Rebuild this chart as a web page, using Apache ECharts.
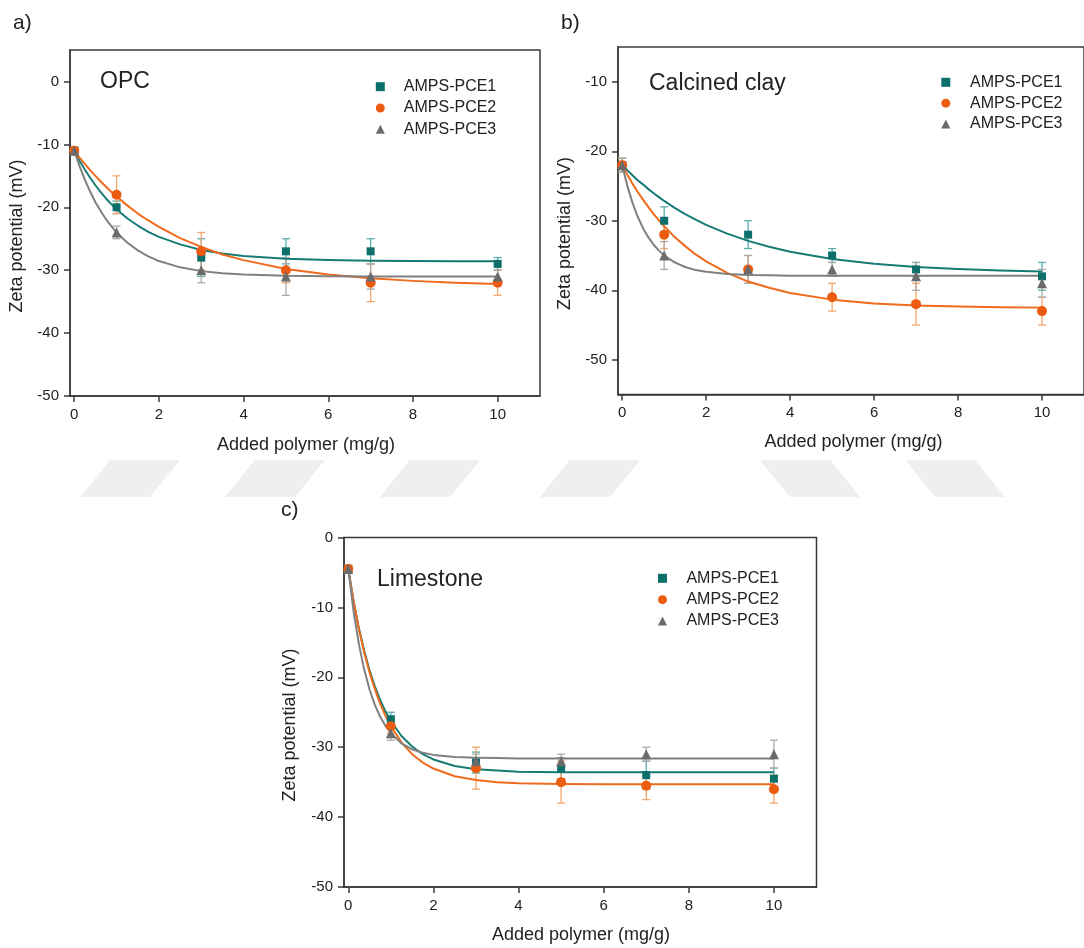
<!DOCTYPE html>
<html>
<head>
<meta charset="utf-8">
<script src="https://cdn.jsdelivr.net/npm/echarts@6/dist/echarts.min.js"></script>
<style>
  html, body { margin: 0; padding: 0; background: #fff; }
  #chart { width: 1084px; height: 948px; }
</style>
</head>
<body>
<div id="chart"></div>
<script>
// ---- data -------------------------------------------------------------
const seriesNames = ['AMPS-PCE1', 'AMPS-PCE2', 'AMPS-PCE3'];
const dose = [0, 1, 3, 5, 7, 10];                      // added polymer, mg/g
const fitDose = [0, 0.125, 0.25, 0.375, 0.5, 0.625, 0.75, 0.875, 1, 1.25, 1.5, 1.75, 2, 2.5, 3, 3.5, 4, 5, 6, 7, 8, 9, 10];
const xTicks = [0, 2, 4, 6, 8, 10];

// a) OPC
const opcYTicks = [-50, -40, -30, -20, -10, 0];
const opcPce1 = [-11, -20, -28, -27, -27, -29];
const opcPce1Err = [0.5, 1, 3, 2, 2, 1];
const opcPce2 = [-11, -18, -27, -30, -32, -32];
const opcPce2Err = [0.5, 3, 3, 2, 3, 2];
const opcPce3 = [-11, -24, -30, -31, -31, -31];
const opcPce3Err = [0.5, 1, 2, 3, 2, 1];
const opcFit1 = [-11, -12.6, -14.0, -15.3, -16.5, -17.6, -18.6, -19.5, -20.3, -21.75, -22.9, -23.9, -24.7, -25.9, -26.8, -27.35, -27.75, -28.2, -28.4, -28.5, -28.55, -28.6, -28.6];
const opcFit2 = [-11, -12.1, -13.1, -14.1, -15.0, -15.9, -16.75, -17.55, -18.3, -19.7, -21.0, -22.1, -23.1, -24.9, -26.3, -27.5, -28.4, -29.8, -30.7, -31.3, -31.7, -32.0, -32.2];
const opcFit3 = [-11, -13.45, -15.6, -17.5, -19.2, -20.6, -21.9, -23.0, -24.0, -25.6, -26.85, -27.8, -28.55, -29.55, -30.15, -30.5, -30.7, -30.9, -30.95, -31, -31, -31, -31];

// b) Calcined clay
const clayYTicks = [-50, -40, -30, -20, -10];
const clayPce1 = [-22, -30, -32, -35, -37, -38];
const clayPce1Err = [1, 2, 2, 1, 1, 2];
const clayPce2 = [-22, -32, -37, -41, -42, -43];
const clayPce2Err = [1, 2, 2, 2, 3, 2];
const clayPce3 = [-22, -35, -37, -37, -38, -39];
const clayPce3Err = [1, 2, 2, 1, 2, 2];
const clayFit1 = [-22, -22.75, -23.5, -24.2, -24.8, -25.45, -26.05, -26.6, -27.15, -28.15, -29.05, -29.85, -30.6, -31.85, -32.9, -33.75, -34.45, -35.5, -36.2, -36.65, -36.95, -37.15, -37.3];
const clayFit2 = [-22, -23.4, -24.7, -25.9, -27.0, -28.05, -29.05, -29.95, -30.8, -32.35, -33.65, -34.85, -35.85, -37.5, -38.75, -39.65, -40.4, -41.35, -41.9, -42.2, -42.35, -42.45, -42.5];
const clayFit3 = [-22, -25.05, -27.5, -29.5, -31.1, -32.4, -33.45, -34.3, -35.0, -36.0, -36.65, -37.1, -37.35, -37.65, -37.8, -37.85, -37.9, -37.9, -37.9, -37.9, -37.9, -37.9, -37.9];

// c) Limestone
const limeYTicks = [-50, -40, -30, -20, -10, 0];
const limePce1 = [-4.5, -26, -32.2, -33, -34, -34.5];
const limePce1Err = [0.5, 1, 1.5, 1.5, 2, 1.5];
const limePce2 = [-4.5, -27, -33, -35, -35.5, -36];
const limePce2Err = [0.5, 1, 3, 3, 2, 2];
const limePce3 = [-4.5, -28, -32, -32, -31, -31];
const limePce3Err = [0.5, 1, 1, 1, 1, 2];
const limeFit1 = [-4.5, -9.1, -13.0, -16.25, -19.0, -21.3, -23.25, -24.9, -26.25, -28.4, -29.9, -31.0, -31.75, -32.7, -33.15, -33.35, -33.5, -33.6, -33.6, -33.6, -33.6, -33.6, -33.6];
const limeFit2 = [-4.5, -9.15, -13.1, -16.45, -19.3, -21.7, -23.8, -25.5, -27.0, -29.3, -31.0, -32.2, -33.05, -34.15, -34.7, -35.0, -35.15, -35.25, -35.3, -35.3, -35.3, -35.3, -35.3];
const limeFit3 = [-4.5, -10.55, -15.25, -18.9, -21.75, -23.95, -25.65, -26.95, -28.0, -29.45, -30.3, -30.8, -31.1, -31.4, -31.5, -31.55, -31.6, -31.6, -31.6, -31.6, -31.6, -31.6, -31.6];

// ---- styling ----------------------------------------------------------
const FONT = "'Liberation Sans', Arial, Helvetica, sans-serif";
const INK = '#222';
const AXIS = '#3a3a3a';
const looks = [
  { marker: '#0c6f6a', line: '#177b75', err: '#5aaea9', symbol: 'rect', size: 8 },
  { marker: '#ec5c10', line: '#f06a1c', err: '#f5a66e', symbol: 'circle', size: 10 },
  { marker: '#6b6b6b', line: '#808080', err: '#ababab', symbol: 'triangle', size: 10 }
];

const panels = [
  { grid: { left: 70, top: 50, width: 470, height: 346 }, yMin: -50, yMax: 5, yTicks: opcYTicks,
    values: [opcPce1, opcPce2, opcPce3], errs: [opcPce1Err, opcPce2Err, opcPce3Err], fits: [opcFit1, opcFit2, opcFit3] },
  { grid: { left: 618, top: 47, width: 470, height: 347.5 }, yMin: -55, yMax: -5, yTicks: clayYTicks,
    values: [clayPce1, clayPce2, clayPce3], errs: [clayPce1Err, clayPce2Err, clayPce3Err], fits: [clayFit1, clayFit2, clayFit3] },
  { grid: { left: 344, top: 537.5, width: 472.5, height: 349.5 }, yMin: -50, yMax: 0, yTicks: limeYTicks,
    values: [limePce1, limePce2, limePce3], errs: [limePce1Err, limePce2Err, limePce3Err], fits: [limeFit1, limeFit2, limeFit3] }
];

const grids = [], xAxes = [], yAxes = [], series = [];

panels.forEach((p, i) => {
  grids.push(Object.assign({ show: true, borderColor: AXIS, borderWidth: 1.5, backgroundColor: '#fff', containLabel: false }, p.grid));
  xAxes.push({
    gridIndex: i, type: 'value', min: -0.1, max: 11,
    axisLine: { show: true, onZero: false, lineStyle: { color: AXIS, width: 1.5 } },
    axisTick: { show: true, customValues: xTicks, length: 6, lineStyle: { color: AXIS, width: 1.5 } },
    axisLabel: { customValues: xTicks, margin: 11, fontSize: 15, color: INK, fontFamily: FONT },
    splitLine: { show: false }
  });
  yAxes.push({
    gridIndex: i, type: 'value', min: p.yMin, max: p.yMax,
    axisLine: { show: true, onZero: false, lineStyle: { color: AXIS, width: 1.5 } },
    axisTick: { show: true, customValues: p.yTicks, length: 6, lineStyle: { color: AXIS, width: 1.5 } },
    axisLabel: { customValues: p.yTicks, margin: 11, fontSize: 15, color: INK, fontFamily: FONT },
    splitLine: { show: false }
  });

  seriesNames.forEach((name, k) => {
    const look = looks[k];
    // error bars
    series.push({
      type: 'custom', name: name + ' error', xAxisIndex: i, yAxisIndex: i, silent: true, z: 1,
      encode: { x: 0, y: [1, 2] },
      data: dose.map((d, j) => [d, p.values[k][j] - p.errs[k][j], p.values[k][j] + p.errs[k][j]]),
      renderItem: (params, api) => {
        const x = api.value(0);
        const lo = api.coord([x, api.value(1)]);
        const hi = api.coord([x, api.value(2)]);
        const cap = 4;
        const style = { stroke: look.err, lineWidth: 1.3 };
        return {
          type: 'group', children: [
            { type: 'line', shape: { x1: hi[0], y1: hi[1], x2: lo[0], y2: lo[1] }, style },
            { type: 'line', shape: { x1: hi[0] - cap, y1: hi[1], x2: hi[0] + cap, y2: hi[1] }, style },
            { type: 'line', shape: { x1: lo[0] - cap, y1: lo[1], x2: lo[0] + cap, y2: lo[1] }, style }
          ]
        };
      }
    });
    // fitted curve
    series.push({
      type: 'line', name: name + ' fit', xAxisIndex: i, yAxisIndex: i, z: 2,
      data: fitDose.map((d, j) => [d, p.fits[k][j]]),
      smooth: false, showSymbol: false, silent: true,
      lineStyle: { color: look.line, width: 2, join: 'round' }, itemStyle: { color: look.line }
    });
    // measured points
    series.push({
      type: 'scatter', name: name, xAxisIndex: i, yAxisIndex: i, z: 3,
      symbol: look.symbol, symbolSize: look.size,
      data: dose.map((d, j) => [d, p.values[k][j]]),
      itemStyle: { color: look.marker, opacity: 1 }
    });
  });
});

function legendAt(left, top, gap, pad) {
  return {
    left, top, orient: 'vertical', itemWidth: 9, itemHeight: 9, itemGap: gap,
    selectedMode: false,
    data: seriesNames.map((n, k) => ({ name: n, icon: looks[k].symbol })),
    textStyle: { fontSize: 16, color: INK, fontFamily: FONT, lineHeight: 16, padding: [0, 0, 0, pad] }
  };
}

function label(text, x, y, size) {
  return {
    type: 'text', x, y, silent: true,
    style: { text, fontSize: size, fontFamily: FONT, fill: INK, textAlign: 'left', textVerticalAlign: 'middle' }
  };
}
function centered(text, x, y, size, rot) {
  return {
    type: 'text', x, y, rotation: rot || 0, silent: true,
    style: { text, fontSize: size, fontFamily: FONT, fill: INK, textAlign: 'center', textVerticalAlign: 'middle' }
  };
}

// faint diagonal background stripes between the upper and lower panels
const stripeColor = '#efefef';
const stripes = [
  [[80, 497], [150, 497], [180, 460], [110, 460]],
  [[225, 497], [295, 497], [325, 460], [255, 460]],
  [[380, 497], [450, 497], [480, 460], [410, 460]],
  [[540, 497], [610, 497], [640, 460], [570, 460]],
  [[790, 497], [860, 497], [830, 460], [760, 460]],
  [[935, 497], [1005, 497], [975, 460], [905, 460]]
].map(pts => ({ type: 'polygon', z: -10, silent: true, shape: { points: pts }, style: { fill: stripeColor } }));

const graphics = stripes.concat([
  label('a)', 13, 23, 21),
  label('b)', 561, 23, 21),
  label('c)', 281, 510, 21),
  label('OPC', 100, 82, 23),
  label('Calcined clay', 649, 83.5, 23),
  label('Limestone', 377, 580, 23),
  centered('Zeta potential (mV)', 17, 236, 18, Math.PI / 2),
  centered('Zeta potential (mV)', 565, 233.5, 18, Math.PI / 2),
  centered('Zeta potential (mV)', 290, 725, 18, Math.PI / 2),
  centered('Added polymer (mg/g)', 306, 445, 18),
  centered('Added polymer (mg/g)', 853.5, 442.5, 18),
  centered('Added polymer (mg/g)', 581, 935.5, 18)
]);

const chart = echarts.init(document.getElementById('chart'), null, { renderer: 'canvas' });
chart.setOption({
  animation: false,
  backgroundColor: '#fff',
  textStyle: { fontFamily: FONT },
  grid: grids,
  xAxis: xAxes,
  yAxis: yAxes,
  legend: [
    legendAt(370.8, 73.7, 5.3, 14),
    legendAt(936.3, 69.3, 4.85, 14.7),
    legendAt(653, 565.3, 5.35, 14.4)
  ],
  graphic: { elements: graphics },
  series
});
</script>
</body>
</html>
